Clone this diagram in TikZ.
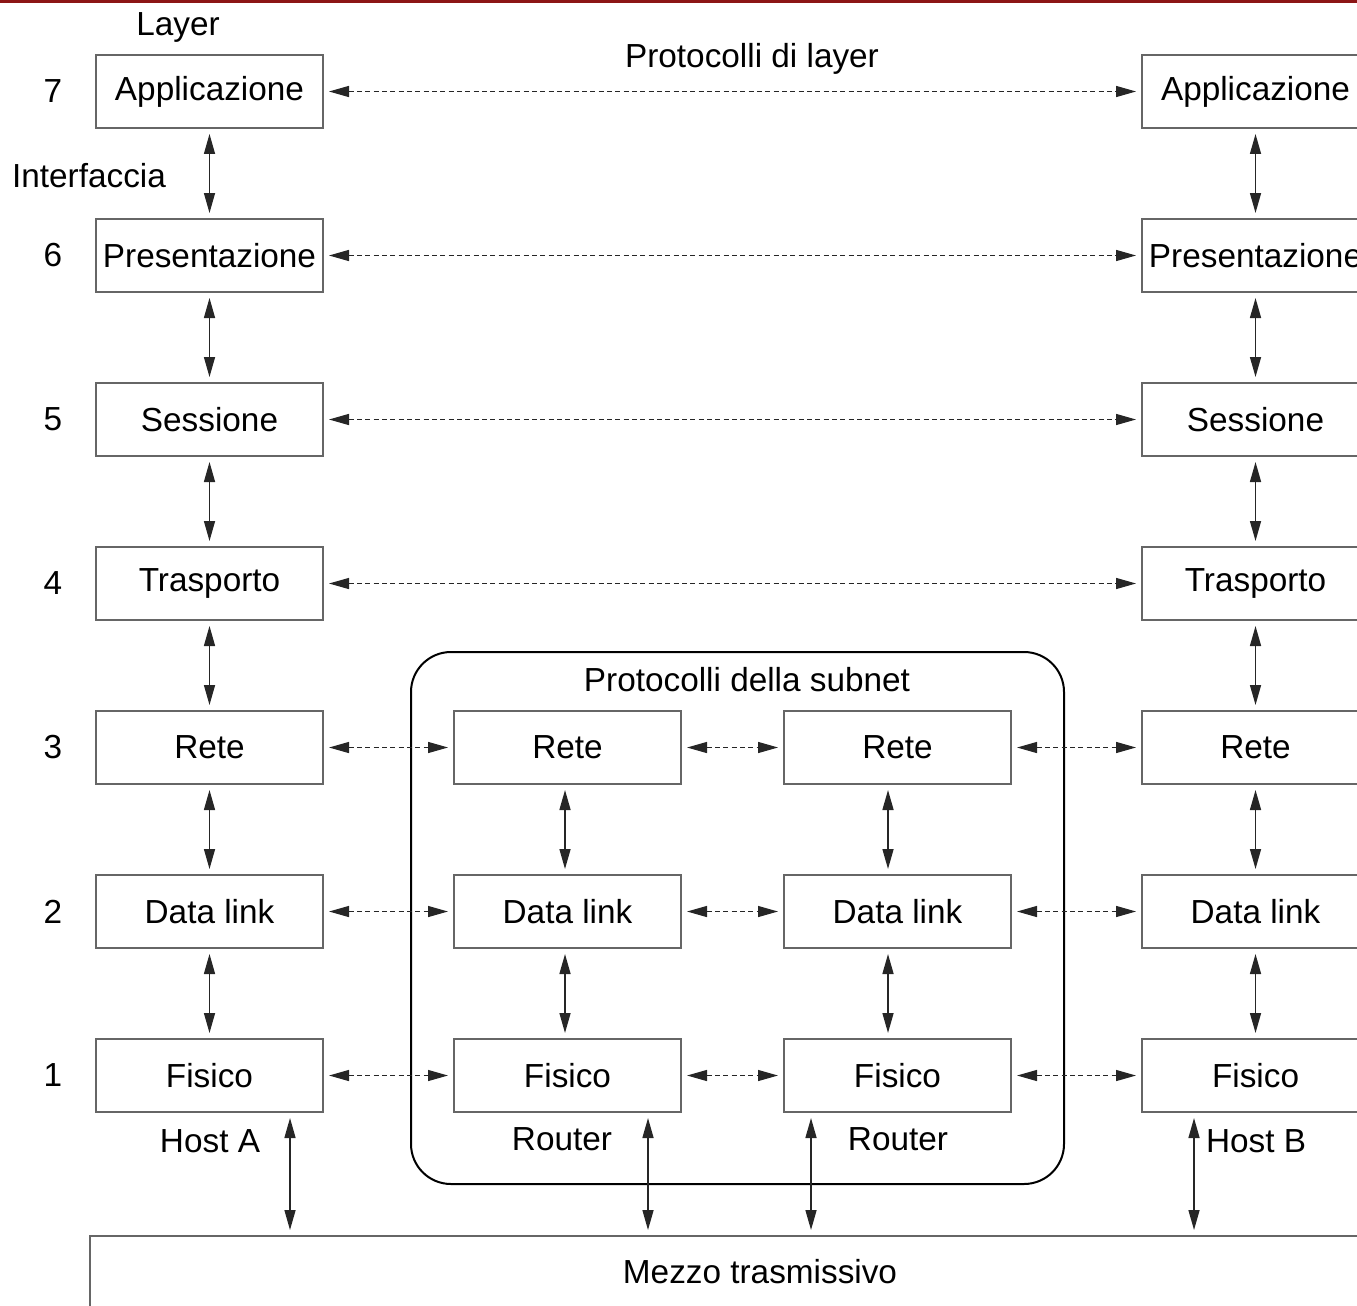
\documentclass[tikz,border=0pt]{standalone}
\usepackage{fontspec}
\setmainfont{Liberation Sans}
\usetikzlibrary{arrows.meta,positioning}
\definecolor{topred}{RGB}{140,22,22}

\begin{document}
\begin{tikzpicture}[x=0.3pt,y=-0.3pt,font=\fontsize{10}{12}\selectfont,>={Triangle[length=6pt,width=3.3pt]}]
\tikzset{
  layerbox/.style={draw=black!60,line width=0.6pt,minimum width=68.1pt,minimum height=21.9pt,inner sep=0pt},
  iface/.style={<->,black!85,line width=0.45pt,shorten <=1.5pt,shorten >=1.5pt},
  peer/.style={<->,black!85,line width=0.4pt,dash pattern=on 1.5pt off 1pt,shorten <=1.5pt,shorten >=1.5pt}
}
\useasboundingbox (0,0) rectangle (1357,1305);
\clip (0,0) rectangle (1357,1305);
\fill[topred] (0,0) rectangle (1357,3);
\node (layer) at (178,27) {Layer};
\node (peerlbl) at (752,59) {Protocolli di layer};
\node (iflbl) at (89,176) {Interfaccia};
% subnet frame
\draw[line width=0.6pt,rounded corners=12pt] (411,652) rectangle (1064,1184);
\node (sublbl) at (747,680) {Protocolli della subnet};
% layer numbers
\node at (53,91.5) {7};
\node at (53,255.5) {6};
\node at (53,419.5) {5};
\node at (53,583.5) {4};
\node at (53,747.5) {3};
\node at (53,911.5) {2};
\node at (53,1075.5) {1};
% host A
\node[layerbox] (appA) at (209.5,91.5) {Applicazione};
\node[layerbox] (preA) at (209.5,255.5) {Presentazione};
\node[layerbox] (sesA) at (209.5,419.5) {Sessione};
\node[layerbox] (traA) at (209.5,583.5) {Trasporto};
\node[layerbox] (retA) at (209.5,747.5) {Rete};
\node[layerbox] (datA) at (209.5,911.5) {Data link};
\node[layerbox] (fisA) at (209.5,1075.5) {Fisico};
% host B
\node[layerbox] (appB) at (1255.5,91.5) {Applicazione};
\node[layerbox] (preB) at (1255.5,255.5) {Presentazione};
\node[layerbox] (sesB) at (1255.5,419.5) {Sessione};
\node[layerbox] (traB) at (1255.5,583.5) {Trasporto};
\node[layerbox] (retB) at (1255.5,747.5) {Rete};
\node[layerbox] (datB) at (1255.5,911.5) {Data link};
\node[layerbox] (fisB) at (1255.5,1075.5) {Fisico};
% routers
\node[layerbox] (retR1) at (567.5,747.5) {Rete};
\node[layerbox] (datR1) at (567.5,911.5) {Data link};
\node[layerbox] (fisR1) at (567.5,1075.5) {Fisico};
\node[layerbox] (retR2) at (897.5,747.5) {Rete};
\node[layerbox] (datR2) at (897.5,911.5) {Data link};
\node[layerbox] (fisR2) at (897.5,1075.5) {Fisico};
\node (hostA) at (210,1141) {Host A};
\node (rtr1) at (562,1139) {Router};
\node (rtr2) at (898,1139) {Router};
\node (hostB) at (1256,1141) {Host B};
\node[draw=black!60,line width=0.6pt,minimum width=402pt,minimum height=21.6pt,inner sep=0pt] (mezzo) at (760,1272) {Mezzo trasmissivo};
% interfaces
\draw[iface] (appA) -- (preA);
\draw[iface] (preA) -- (sesA);
\draw[iface] (sesA) -- (traA);
\draw[iface] (traA) -- (retA);
\draw[iface] (retA) -- (datA);
\draw[iface] (datA) -- (fisA);
\draw[iface] (appB) -- (preB);
\draw[iface] (preB) -- (sesB);
\draw[iface] (sesB) -- (traB);
\draw[iface] (traB) -- (retB);
\draw[iface] (retB) -- (datB);
\draw[iface] (datB) -- (fisB);
\draw[iface] ([xshift=-0.75pt]retR1.south) -- ([xshift=-0.75pt]datR1.north);
\draw[iface] ([xshift=-0.75pt]datR1.south) -- ([xshift=-0.75pt]fisR1.north);
\draw[iface] ([xshift=-2.85pt]retR2.south) -- ([xshift=-2.85pt]datR2.north);
\draw[iface] ([xshift=-2.85pt]datR2.south) -- ([xshift=-2.85pt]fisR2.north);
% to the medium
\draw[iface] ([xshift=24.15pt]fisA.south) -- ([xshift=24.15pt]fisA.south |- mezzo.north);
\draw[iface] ([xshift=24.15pt]fisR1.south) -- ([xshift=24.15pt]fisR1.south |- mezzo.north);
\draw[iface] ([xshift=-25.95pt]fisR2.south) -- ([xshift=-25.95pt]fisR2.south |- mezzo.north);
\draw[iface] ([xshift=-18.45pt]fisB.south) -- ([xshift=-18.45pt]fisB.south |- mezzo.north);
% peer protocols
\draw[peer] (appA) -- (appB);
\draw[peer] (preA) -- (preB);
\draw[peer] (sesA) -- (sesB);
\draw[peer] (traA) -- (traB);
\draw[peer] (retA) -- (retR1);
\draw[peer] (retR1) -- (retR2);
\draw[peer] (retR2) -- (retB);
\draw[peer] (datA) -- (datR1);
\draw[peer] (datR1) -- (datR2);
\draw[peer] (datR2) -- (datB);
\draw[peer] (fisA) -- (fisR1);
\draw[peer] (fisR1) -- (fisR2);
\draw[peer] (fisR2) -- (fisB);
\end{tikzpicture}
\end{document}
